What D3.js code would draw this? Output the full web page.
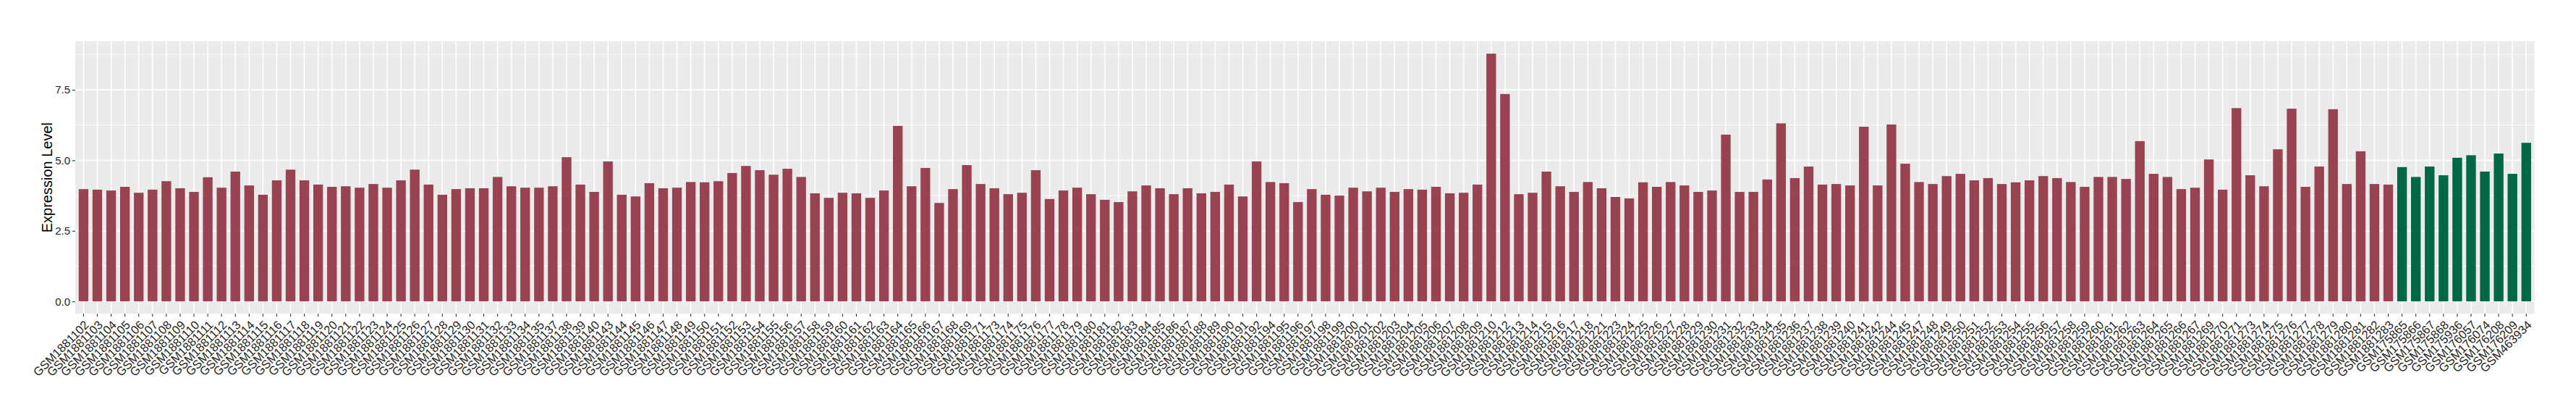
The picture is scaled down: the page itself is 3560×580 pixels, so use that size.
<!DOCTYPE html>
<html>
<head>
<meta charset="utf-8">
<script src="https://cdn.jsdelivr.net/npm/d3@7/dist/d3.min.js"></script>
<style>
  html, body { margin: 0; padding: 0; background: #ffffff; }
  svg { display: block; }
</style>
</head>
<body>
<div id="chart"></div>
<script>
// ---------- data ----------
const redSuffixes = [
  102,103,104,105,106,107,108,109,110,111,112,113,114,115,116,117,118,119,120,121,
  122,123,124,125,126,127,128,129,130,131,132,133,134,135,137,138,139,140,143,144,
  145,146,147,148,149,150,151,152,153,154,155,156,157,158,159,160,161,162,163,164,
  165,166,167,168,169,171,173,174,175,176,177,178,179,180,181,182,183,184,185,186,
  187,188,189,190,191,192,194,195,196,197,198,199,200,201,202,203,204,205,206,207,
  208,209,210,212,213,214,215,216,217,218,221,223,224,225,226,227,228,229,230,231,
  232,233,234,235,236,237,238,239,240,241,242,244,245,247,248,249,250,251,252,253,
  254,255,256,257,258,259,260,261,262,263,264,265,266,267,269,270,271,273,274,275,
  276,277,278,279,280,281,282,283
];
const redLabels = redSuffixes.map(s => "GSM1881" + s);
const redValues = [
  3.98,3.96,3.93,4.06,3.85,3.96,4.26,4.01,3.88,4.40,4.03,4.60,4.11,3.78,4.29,4.67,4.29,4.14,4.06,4.08,
  4.03,4.16,4.03,4.29,4.67,4.14,3.78,3.98,4.01,4.01,4.41,4.08,4.03,4.03,4.08,5.11,4.14,3.88,4.96,3.78,
  3.72,4.19,4.01,4.03,4.23,4.22,4.26,4.55,4.80,4.65,4.49,4.70,4.41,3.83,3.67,3.85,3.83,3.67,3.93,6.22,
  4.08,4.73,3.49,3.98,4.83,4.16,4.01,3.80,3.85,4.65,3.63,3.93,4.03,3.80,3.60,3.52,3.90,4.11,4.01,3.80,
  4.01,3.83,3.88,4.14,3.72,4.96,4.23,4.19,3.52,3.98,3.78,3.75,4.03,3.90,4.03,3.88,3.98,3.96,4.06,3.83,
  3.85,4.14,8.78,7.35,3.80,3.85,4.60,4.08,3.88,4.23,4.01,3.70,3.65,4.22,4.06,4.23,4.11,3.88,3.93,5.91,
  3.88,3.88,4.32,6.31,4.37,4.78,4.14,4.16,4.11,6.19,4.11,6.27,4.88,4.23,4.16,4.44,4.52,4.29,4.37,4.16,
  4.22,4.29,4.44,4.37,4.23,4.06,4.41,4.41,4.34,5.68,4.52,4.41,3.98,4.03,5.03,3.96,6.85,4.47,4.08,5.39,
  6.83,4.06,4.78,6.81,4.16,5.32,4.16,4.14
];
const greenLabels = [
  "GSM175865","GSM175866","GSM175867","GSM175868","GSM175936",
  "GSM176057","GSM176074","GSM176208","GSM176209","GSM463934"
];
const greenValues = [4.76,4.41,4.78,4.47,5.09,5.18,4.60,5.24,4.52,5.62];
const yTicks = [0, 2.5, 5.0, 7.5];
const yMinorTicks = [1.25, 3.75, 6.25, 8.75];
const yTitle = "Expression Level";

// ---------- build ----------
const groupColors = { red: "#994352", green: "#006846" };
const data = redLabels.map((l, i) => ({ label: l, value: redValues[i], group: "red" }))
  .concat(greenLabels.map((l, i) => ({ label: l, value: greenValues[i], group: "green" })));

const W = 3560, H = 580;
const panel = { left: 104, right: 3502.7, top: 57, bottom: 433.3 };

const svg = d3.select("#chart").append("svg")
  .attr("width", W).attr("height", H)
  .attr("viewBox", `0 0 ${W} ${H}`);
svg.append("rect").attr("width", W).attr("height", H).attr("fill", "#ffffff");

const x = d3.scaleBand()
  .domain(data.map(d => d.label))
  .range([panel.left, panel.right])
  .paddingInner(0.3)
  .paddingOuter(0.25)
  .align(0.5);

const maxV = d3.max(data, d => d.value);
const y = d3.scaleLinear()
  .domain([-0.05 * maxV, 1.05 * maxV])
  .range([panel.bottom, panel.top]);

// panel background
svg.append("rect")
  .attr("x", panel.left).attr("y", panel.top)
  .attr("width", panel.right - panel.left)
  .attr("height", panel.bottom - panel.top)
  .attr("fill", "#EBEBEB");

const grid = svg.append("g");
grid.selectAll("line.ymin").data(yMinorTicks).join("line")
  .attr("x1", panel.left).attr("x2", panel.right)
  .attr("y1", d => y(d)).attr("y2", d => y(d))
  .attr("stroke", "#ffffff").attr("stroke-width", 0.8);
grid.selectAll("line.ymaj").data(yTicks).join("line")
  .attr("x1", panel.left).attr("x2", panel.right)
  .attr("y1", d => y(d)).attr("y2", d => y(d))
  .attr("stroke", "#ffffff").attr("stroke-width", 1.6);
grid.selectAll("line.xmaj").data(data).join("line")
  .attr("y1", panel.top).attr("y2", panel.bottom)
  .attr("x1", d => x(d.label) + x.bandwidth() / 2)
  .attr("x2", d => x(d.label) + x.bandwidth() / 2)
  .attr("stroke", "#ffffff").attr("stroke-width", 1.6);

// bars
svg.append("g").selectAll("rect").data(data).join("rect")
  .attr("x", d => x(d.label))
  .attr("width", x.bandwidth())
  .attr("y", d => y(d.value))
  .attr("height", d => y(0) - y(d.value))
  .attr("fill", d => groupColors[d.group]);

// y axis
const yAxis = d3.axisLeft(y).tickValues(yTicks).tickFormat(d3.format(".1f"))
  .tickSize(4).tickPadding(3);
const gy = svg.append("g").attr("transform", `translate(${panel.left},0)`).call(yAxis);
gy.select(".domain").remove();
gy.selectAll(".tick line").attr("stroke", "#333333").attr("stroke-width", 1.1);
gy.selectAll(".tick text")
  .attr("fill", "#1F1F1F")
  .style("font-family", "'Liberation Sans', Arial, sans-serif")
  .style("font-size", "15px");

// x axis
const xAxis = d3.axisBottom(x).tickSize(4).tickPadding(0);
const gx = svg.append("g").attr("transform", `translate(0,${panel.bottom})`).call(xAxis);
gx.select(".domain").remove();
gx.selectAll(".tick line").attr("stroke", "#333333").attr("stroke-width", 1.1);
gx.selectAll(".tick text")
  .attr("fill", "#1F1F1F")
  .style("font-family", "'Liberation Sans', Arial, sans-serif")
  .style("font-size", "16.5px")
  .attr("text-anchor", "end")
  .attr("x", 0).attr("y", 0).attr("dy", "0.72em")
  .attr("transform", "translate(0,8) rotate(-45)");

// y title
svg.append("text")
  .attr("transform", `translate(72,${(panel.top + panel.bottom) / 2}) rotate(-90)`)
  .attr("text-anchor", "middle")
  .style("font-family", "'Liberation Sans', Arial, sans-serif")
  .style("font-size", "20px")
  .attr("fill", "#000000")
  .text(yTitle);
</script>
</body>
</html>
